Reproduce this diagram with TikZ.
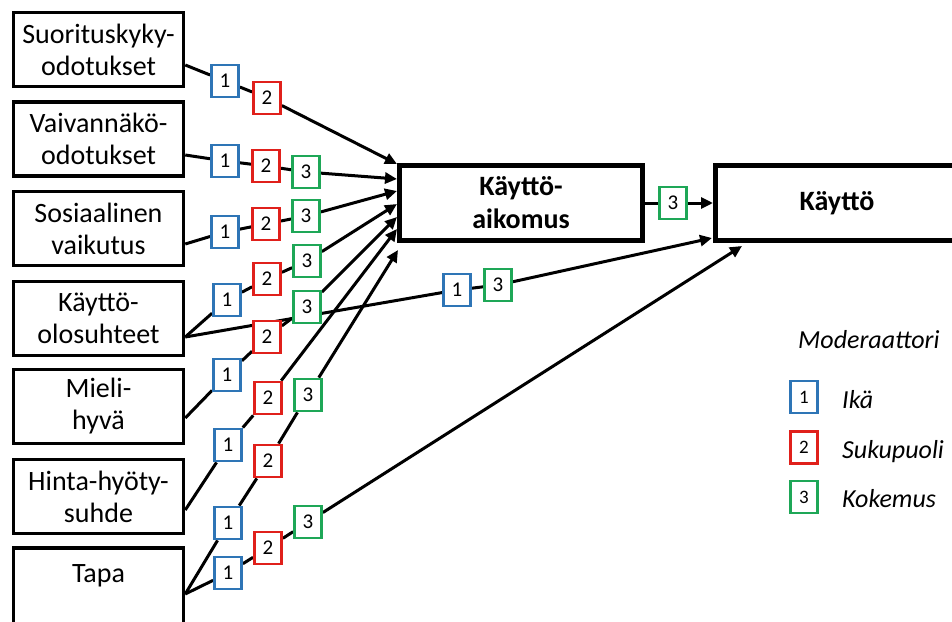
\documentclass[tikz,border=0pt]{standalone}
\usepackage{fontspec}
\setmainfont{Carlito}
\usetikzlibrary{arrows.meta,backgrounds}

\definecolor{ikablue}{HTML}{2E75B6}
\definecolor{sukured}{HTML}{E0201B}
\definecolor{kokegreen}{HTML}{1EA757}

\newcommand{\srcfont}{\fontsize{28}{32}\selectfont}
\newcommand{\hubfont}{\fontsize{28}{33}\selectfont\bfseries}
\newcommand{\modnumfont}{\fontsize{21}{24}\selectfont}
\newcommand{\legnumfont}{\fontsize{19}{22}\selectfont}
\newcommand{\legfont}{\fontsize{26}{30}\selectfont\itshape}

\tikzset{
  srcbox/.style={draw, line width=3.5pt, minimum width=170pt, minimum height=74pt,
    align=center, inner sep=0pt, font=\srcfont},
  hubbox/.style={draw, line width=5pt, minimum width=243pt, minimum height=75pt,
    align=center, inner sep=0pt, font=\hubfont},
  modbox/.style={draw, fill=white, line width=2.8pt, minimum width=27pt,
    minimum height=32pt, inner sep=0pt, font=\modnumfont},
  ika/.style={modbox, draw=ikablue},
  suku/.style={modbox, draw=sukured},
  koke/.style={modbox, draw=kokegreen},
  legbox/.style={font=\legnumfont},
  conn/.style={line width=3pt, line join=round},
  arr/.style={conn, -{Triangle[length=12pt,width=11pt]}},
  legtext/.style={anchor=base west, inner sep=0pt, font=\legfont},
}

\begin{document}
\begin{tikzpicture}[x=1pt, y=-1pt]
\useasboundingbox (0,0) rectangle (952,621);
\clip (0,0) rectangle (952,621);

% determinants
\node[srcbox] (s1) at (98.5,49.5)  {Suorituskyky-\\odotukset};
\node[srcbox] (s2) at (98.5,139)   {Vaivannäkö-\\odotukset};
\node[srcbox] (s3) at (98.5,228.5) {Sosiaalinen\\vaikutus};
\node[srcbox] (s4) at (98.5,318.5) {Käyttö-\\olosuhteet};
\node[srcbox] (s5) at (98.5,406.5) {Mieli-\\hyvä};
\node[srcbox] (s6) at (98.5,496.5) {Hinta-hyöty-\\suhde};
\node[srcbox, anchor=north, minimum height=0pt, text height=35pt, text depth=45pt]
  (s7) at (98.5,546) {Tapa};

% intention and use
\node[hubbox] (aik) at (521,203) {Käyttö-\\aikomus};
\node[hubbox] (kay) at (837,203) {Käyttö};

% exit points on the determinant boxes
\coordinate (e1) at (s1.east |- 0,65);
\coordinate (e2) at (s2.east |- 0,155);
\coordinate (e3) at (s3.east |- 0,244);
\coordinate (e4) at (s4.east |- 0,337);
\coordinate (e5) at (s5.east |- 0,418);
\coordinate (e6) at (s6.east |- 0,510);
\coordinate (e7) at (s7.east |- 0,594);

% arrow tips at the intention box
\coordinate (t1) at (397,164);
\coordinate (t2) at (397,179);
\coordinate (t3) at (397,191);
\coordinate (t4) at (397,204);
\coordinate (t5) at (397,217);
\coordinate (t6) at (397,229);
\coordinate (t7) at (398,250);
% arrow tips at the use box
\coordinate (u1) at (712,238);
\coordinate (u2) at (742,246);

% moderators: 1 = age, 2 = gender, 3 = experience
\node[ika]  (m11) at (225,81)  {1};
\node[suku] (m12) at (267,98)  {2};

\node[ika]  (m21) at (225,161) {1};
\node[suku] (m22) at (266,166) {2};
\node[koke] (m23) at (306,172) {3};

\node[ika]  (m31) at (225,232) {1};
\node[suku] (m32) at (266,224) {2};
\node[koke] (m33) at (306,216) {3};

\node[ika]  (m41) at (227,300) {1};
\node[suku] (m42) at (267,279) {2};
\node[koke] (m43) at (307,261) {3};
\node[ika]  (m44) at (457,290) {1};
\node[koke] (m45) at (498,285) {3};

\node[ika]  (m51) at (227,375) {1};
\node[suku] (m52) at (267,337) {2};
\node[koke] (m53) at (307,307) {3};

\node[ika]  (m61) at (228,445) {1};
\node[suku] (m62) at (268,398) {2};

\node[ika]  (m71) at (228,523) {1};
\node[suku] (m72) at (268,461) {2};
\node[koke] (m73) at (308,395) {3};
\node[ika]  (m74) at (228,573) {1};
\node[suku] (m75) at (268,548) {2};
\node[koke] (m76) at (308,522) {3};

\node[koke] (m8) at (673,203) {3};

% connectors
\begin{scope}[on background layer]
\draw[arr] (e1) -- (m11) -- (m12) -- (t1);
\draw[arr] (e2) -- (m21) -- (m22) -- (m23) -- (t2);
\draw[arr] (e3) -- (m31) -- (m32) -- (m33) -- (t3);
\draw[arr] (e4) -- (m41) -- (m42) -- (m43) -- (t4);
\draw[arr] (e4) -- (m44) -- (m45) -- (u1);
\draw[arr] (e5) -- (m51) -- (m52) -- (m53) -- (t5);
\draw[arr] (e6) -- (m61) -- (m62) -- (t6);
\draw[arr] (e7) -- (m71) -- (m72) -- (m73) -- (t7);
\draw[arr] (e7) -- (m74) -- (m75) -- (m76) -- (u2);
\draw[arr] (aik) -- (m8) -- (kay);
\end{scope}

% legend
\node[legtext] (legtitle) at (798,348) {Moderaattori};
\node[ika, legbox]  (l1) at (804,397)   {1};
\node[suku, legbox] (l2) at (804,447.5) {2};
\node[koke, legbox] (l3) at (804,497)   {3};
\node[legtext] (l1t) at (842,408) {Ikä};
\node[legtext] (l2t) at (842,458) {Sukupuoli};
\node[legtext] (l3t) at (842,507) {Kokemus};
\end{tikzpicture}
\end{document}
